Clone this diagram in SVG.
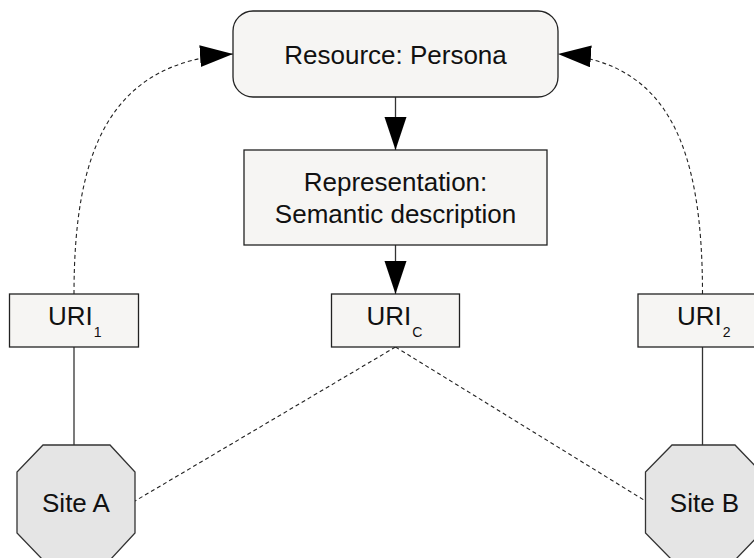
<svg xmlns="http://www.w3.org/2000/svg" width="754" height="558" viewBox="0 0 754 558">
  <defs>
    <style>
      .box { fill: #f6f5f3; stroke: #222; stroke-width: 1.3; }
      .site { fill: #e5e5e5; stroke: #333; stroke-width: 1.3; }
      .label { font-family: "Liberation Sans", Arial, sans-serif; font-size: 26px; fill: #111; }
      .sub { font-size: 14px; }
      .solid { fill: none; stroke: #333; stroke-width: 1.3; }
      .dash { fill: none; stroke: #222; stroke-width: 1.1; stroke-dasharray: 4 3; }
    </style>
    <marker id="arrow" markerUnits="userSpaceOnUse" markerWidth="34" markerHeight="23" refX="33" refY="11" orient="auto">
      <path d="M0,0 L33,11 L0,22 Z" fill="#000"/>
    </marker>
  </defs>
  <rect width="754" height="558" fill="#fff"/>

  <!-- Connectors -->
  <g id="connectors">
    <line class="solid" x1="395.5" y1="97" x2="395.5" y2="150" marker-end="url(#arrow)"/>
    <line class="solid" x1="395.5" y1="245" x2="395.5" y2="294" marker-end="url(#arrow)"/>
    <path class="dash" d="M74,294 C74,150 110,62 233,54" marker-end="url(#arrow)"/>
    <path class="dash" d="M702.5,294 C702.5,150 670,62 558,54" marker-end="url(#arrow)"/>
    <line class="solid" x1="74" y1="347" x2="74" y2="445"/>
    <line class="solid" x1="702.5" y1="347" x2="702.5" y2="445"/>
    <line class="dash" x1="395.5" y1="347" x2="135" y2="501"/>
    <line class="dash" x1="395.5" y1="347" x2="645.5" y2="501"/>
  </g>

  <!-- Nodes -->
  <g id="resource">
    <rect class="box" x="233" y="11" width="325" height="86" rx="20" ry="20"/>
    <text class="label" x="395.5" y="64" text-anchor="middle">Resource: Persona</text>
  </g>

  <g id="representation">
    <rect class="box" x="244" y="150" width="303" height="95"/>
    <text class="label" x="395.5" y="190.5" text-anchor="middle">Representation:</text>
    <text class="label" x="395.5" y="222.5" text-anchor="middle">Semantic description</text>
  </g>

  <g id="uri-c">
    <rect class="box" x="331.5" y="294" width="128" height="53"/>
    <text class="label" x="366.5" y="325">URI<tspan class="sub" dx="1" dy="12">C</tspan></text>
  </g>

  <g id="uri-1">
    <rect class="box" x="9.5" y="294" width="129" height="53"/>
    <text class="label" x="48" y="325">URI<tspan class="sub" dx="1" dy="12">1</tspan></text>
  </g>

  <g id="uri-2">
    <rect class="box" x="638" y="294" width="129" height="53"/>
    <text class="label" x="677" y="325">URI<tspan class="sub" dx="1" dy="12">2</tspan></text>
  </g>

  <g id="site-a">
    <polygon class="site" points="43,445 110,445 135,472 135,533 110,560 43,560 17,533 17,472"/>
    <text class="label" x="76" y="511.5" text-anchor="middle">Site A</text>
  </g>

  <g id="site-b">
    <polygon class="site" points="672,445 735,445 761,472 761,533 735,560 672,560 645.5,533 645.5,472"/>
    <text class="label" x="704.5" y="511.5" text-anchor="middle">Site B</text>
  </g>
</svg>
